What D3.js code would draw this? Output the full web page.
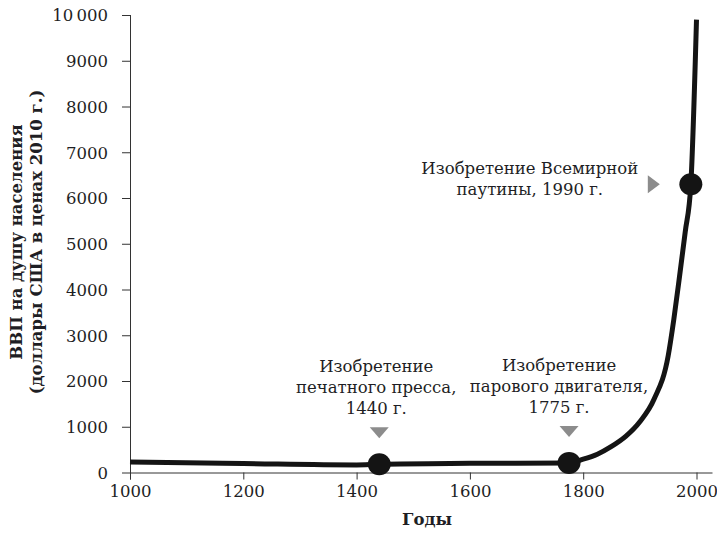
<!DOCTYPE html>
<html>
<head>
<meta charset="utf-8">
<script src="https://cdn.jsdelivr.net/npm/d3@7"></script>
<style>
  body { margin: 0; background: #fff; }
  svg { display: block; }
  text { font-family: "DejaVu Serif", serif; fill: #1e1e24; }
</style>
</head>
<body>
<div id="chart"></div>
<script>
"use strict";

// GDP per capita
let gdpYears = [1000, 1200, 1400, 1440, 1600, 1775, 1800, 1825, 1850, 1875, 1900, 1925, 1950, 1960, 1970, 1980, 1990, 2000];
let gdpValues = [230, 195, 165, 180, 200, 210, 290, 400, 570, 790, 1110, 1600, 2550, 3350, 4280, 5250, 6300, 9900];

let xTicks = [1000, 1200, 1400, 1600, 1800, 2000];
let yTicks = [0, 1000, 2000, 3000, 4000, 5000, 6000, 7000, 8000, 9000, 10000];
let yTickLabels = ["0", "1000", "2000", "3000", "4000", "5000", "6000", "7000", "8000", "9000", "10\u2009000"];

// events marked on the curve
let eventYears = [1440, 1775, 1990];
let eventValues = [180, 210, 6300];
let eventLabels = [
  ["Изобретение", "печатного пресса,", "1440 г."],
  ["Изобретение", "парового двигателя,", "1775 г."],
  ["Изобретение Всемирной", "паутины, 1990 г."]
];

let xTitle = "Годы";
let yTitle = ["ВВП на душу населения", "(доллары США в ценах 2010 г.)"];

let width = 717, height = 534;

let svg = d3.select("#chart").append("svg")
  .attr("width", width)
  .attr("height", height);

let x = d3.scaleLinear().domain([1000, 2000]).range([130, 696.5]);
let y = d3.scaleLinear().domain([0, 10000]).range([472.5, 15]);

// x axis
let xAxis = svg.append("g")
  .attr("transform", "translate(0," + y(0) + ")")
  .call(d3.axisBottom(x).tickValues(xTicks).tickFormat(d3.format("d")).tickSize(7).tickSizeOuter(0));
xAxis.select(".domain").attr("d", "M" + x(1000) + ",0.5H" + (x(2000) + 16));
xAxis.selectAll("line").attr("stroke", "#333");
xAxis.selectAll("text")
  .attr("dy", null)
  .attr("y", 24.5)
  .style("font-size", "16.5px");

// y axis
let yAxis = svg.append("g")
  .attr("transform", "translate(" + x(1000) + ",0)")
  .call(d3.axisLeft(y).tickValues(yTicks).tickFormat((d, i) => yTickLabels[i]).tickSize(8).tickSizeOuter(0));
yAxis.select(".domain").attr("d", "M0.5," + y(10000) + "V" + (y(0) + 7));
yAxis.selectAll("line").attr("stroke", "#333");
yAxis.selectAll("text")
  .attr("x", -22)
  .attr("dy", "0.36em")
  .style("font-size", "16.5px");
yAxis.selectAll(".domain").attr("stroke", "#333");
xAxis.selectAll(".domain").attr("stroke", "#333");
svg.selectAll(".tick text").attr("fill", "#1e1e24");

// axis titles
svg.append("text")
  .attr("x", 427)
  .attr("y", 525)
  .attr("text-anchor", "middle")
  .style("font-size", "16.5px")
  .style("font-weight", "bold")
  .text(xTitle);

svg.append("g")
  .attr("transform", "translate(22,242) rotate(-90)")
  .selectAll("text")
  .data(yTitle)
  .enter().append("text")
  .attr("x", 0)
  .attr("y", (d, i) => i * 20)
  .attr("text-anchor", "middle")
  .style("font-size", "16.5px")
  .style("font-weight", "bold")
  .text(d => d);

// curve
let line = d3.line()
  .x((d, i) => x(gdpYears[i]))
  .y(d => y(d))
  .curve(d3.curveMonotoneX);

svg.append("path")
  .datum(gdpValues)
  .attr("fill", "none")
  .attr("stroke", "#141414")
  .attr("stroke-width", 5)
  .attr("stroke-linecap", "butt")
  .attr("d", line);

// event dots
svg.selectAll(".eventDot")
  .data(eventYears)
  .enter().append("ellipse")
  .attr("class", "eventDot")
  .attr("cx", d => x(d))
  .attr("cy", (d, i) => y(eventValues[i]))
  .attr("rx", 11.5)
  .attr("ry", 11)
  .attr("fill", "#141414");

// markers and labels
eventYears.forEach(function(year, i) {
  let cx = x(year), cy = y(eventValues[i]);
  let lines = eventLabels[i];
  let g = svg.append("g").attr("class", "eventLabel");

  if (i < 2) {
    // downward triangle above the dot
    g.append("path")
      .attr("d", "M" + (cx - 9.5) + "," + (cy - 37) + "L" + (cx + 9.5) + "," + (cy - 37) + "L" + cx + "," + (cy - 26) + "Z")
      .attr("fill", "#8c8c8c");
    let tx = cx + (i === 0 ? -3 : -10);
    g.selectAll("text")
      .data(lines)
      .enter().append("text")
      .attr("x", tx)
      .attr("y", (d, j) => cy - 92 + j * 21)
      .attr("text-anchor", "middle")
      .style("font-size", "16.5px")
      .text(d => d);
  } else {
    // right-pointing triangle left of the dot
    g.append("path")
      .attr("d", "M" + (cx - 43) + "," + (cy - 9) + "L" + (cx - 43) + "," + (cy + 9) + "L" + (cx - 31) + "," + cy + "Z")
      .attr("fill", "#8c8c8c");
    g.selectAll("text")
      .data(lines)
      .enter().append("text")
      .attr("x", cx - 161)
      .attr("y", (d, j) => cy - 10 + j * 21)
      .attr("text-anchor", "middle")
      .style("font-size", "16.5px")
      .text(d => d);
  }
});
</script>
</body>
</html>
